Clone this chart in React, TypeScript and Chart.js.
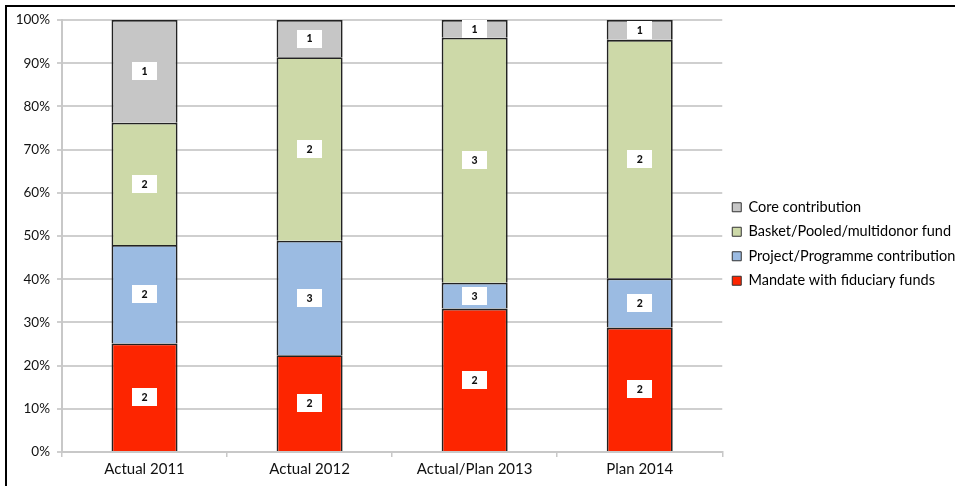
import React, { useEffect, useRef } from "react";
import { Chart, registerables } from "chart.js";

Chart.register(...registerables);

const categories = ["Actual 2011", "Actual 2012", "Actual/Plan 2013", "Plan 2014"];

// Share of each funding modality (percent of the total per column)
const mandateShare = [25.1, 22.4, 33.2, 28.8];
const projectShare = [22.8, 26.5, 6.0, 11.4];
const basketShare = [28.3, 42.5, 56.7, 55.2];
const coreShare = [23.8, 8.6, 4.1, 4.6];

// Count shown in the box on each segment
const mandateCount = [2, 2, 2, 2];
const projectCount = [2, 3, 3, 2];
const basketCount = [2, 2, 3, 2];
const coreCount = [1, 1, 1, 1];

const yTicks = [0, 10, 20, 30, 40, 50, 60, 70, 80, 90, 100];

const FONT = "Lato, 'Open Sans', sans-serif";

const segmentLabels = {
  id: "segmentLabels",
  afterDatasetsDraw(chart: any) {
    const ctx = chart.ctx;
    ctx.save();
    chart.data.datasets.forEach((ds: any, di: number) => {
      const meta = chart.getDatasetMeta(di);
      meta.data.forEach((bar: any, i: number) => {
        const cx = bar.x;
        const cy = (bar.y + bar.base) / 2;
        const w = 25;
        const h = 18;
        ctx.fillStyle = "#ffffff";
        ctx.fillRect(Math.round(cx - w / 2), Math.round(cy - h / 2), w, h);
        ctx.fillStyle = "#111111";
        ctx.font = `900 10.5px Lato, sans-serif`;
        ctx.textAlign = "center";
        ctx.textBaseline = "middle";
        ctx.fillText(String(ds.counts[i]), cx, cy + 0.5);
      });
    });
    ctx.restore();
  },
};

// Nudges the legend block upward so it sits at the vertical middle of the frame
const legendShift = {
  id: "legendShift",
  afterLayout(chart: any) {
    const lg = chart.legend;
    if (!lg) return;
    lg.top -= 9;
    lg.bottom -= 9;
  },
};

export default function App() {
  const ref = useRef<HTMLCanvasElement | null>(null);

  useEffect(() => {
    if (!ref.current) return;
    const border = "#222222";
    const mk = (label: string, data: number[], counts: number[], color: string) => ({
      label,
      data,
      counts,
      backgroundColor: color,
      borderColor: border,
      borderWidth: 1.8,
      borderSkipped: "bottom",
      barPercentage: 0.4,
      categoryPercentage: 1,
    });
    const chart = new Chart(ref.current, {
      type: "bar",
      data: {
        labels: categories,
        datasets: [
          mk("Mandate with fiduciary funds", mandateShare, mandateCount, "#fd2500"),
          mk("Project/Programme contribution", projectShare, projectCount, "#9bbbe2"),
          mk("Basket/Pooled/multidonor fund", basketShare, basketCount, "#cdd9a8"),
          mk("Core contribution", coreShare, coreCount, "#c6c6c6"),
        ] as any,
      },
      options: {
        responsive: false,
        animation: false,
        layout: { padding: { top: 20, right: -8, bottom: 0, left: 0 } },
        plugins: {
          tooltip: { enabled: false },
          legend: {
            position: "right",
            reverse: true,
            labels: {
              boxWidth: 9,
              boxHeight: 9,
              padding: 10,
              color: "#111111",
              font: { family: FONT, size: 14.5 },
              generateLabels(chart: any) {
                return chart.data.datasets.map((ds: any, i: number) => ({
                  text: ds.label,
                  fillStyle: ds.backgroundColor,
                  strokeStyle: "#333333",
                  lineWidth: 1,
                  datasetIndex: i,
                  hidden: false,
                }));
              },
            },
          },
        },
        scales: {
          x: {
            stacked: true,
            grid: {
              offset: true,
              drawOnChartArea: false,
              drawTicks: true,
              tickLength: 5,
              color: "#c8c8c8",
              lineWidth: 1.5,
            },
            border: { color: "#c8c8c8", width: 2 },
            ticks: {
              color: "#111111",
              padding: 3,
              font: { family: FONT, size: 15 },
            },
            afterFit(scale: any) {
              scale.height = 34;
            },
          },
          y: {
            stacked: true,
            min: 0,
            max: 100,
            afterBuildTicks(scale: any) {
              scale.ticks = yTicks.map((v) => ({ value: v }));
            },
            grid: {
              color: "#cfcfcf",
              lineWidth: 2,
              tickLength: 5,
            },
            border: { color: "#c8c8c8", width: 2 },
            ticks: {
              color: "#111111",
              padding: 7,
              font: { family: FONT, size: 13.5 },
              callback: (v: any) => `${v}%`,
            },
            afterFit(scale: any) {
              scale.width = 62;
            },
          },
        },
      },
      plugins: [segmentLabels, legendShift],
    });
    return () => chart.destroy();
  }, []);

  return (
    <div style={{ position: "fixed", left: 0, top: 0, width: 955, height: 486, background: "#ffffff", overflow: "hidden" }}>
      <canvas ref={ref} width={955} height={486} style={{ position: "absolute", left: 0, top: 0 }} />
      <div
        style={{
          position: "absolute",
          left: 5,
          top: 5,
          right: 0,
          bottom: 0,
          borderTop: "2px solid #000",
          borderLeft: "2px solid #000",
          pointerEvents: "none",
        }}
      />
    </div>
  );
}
